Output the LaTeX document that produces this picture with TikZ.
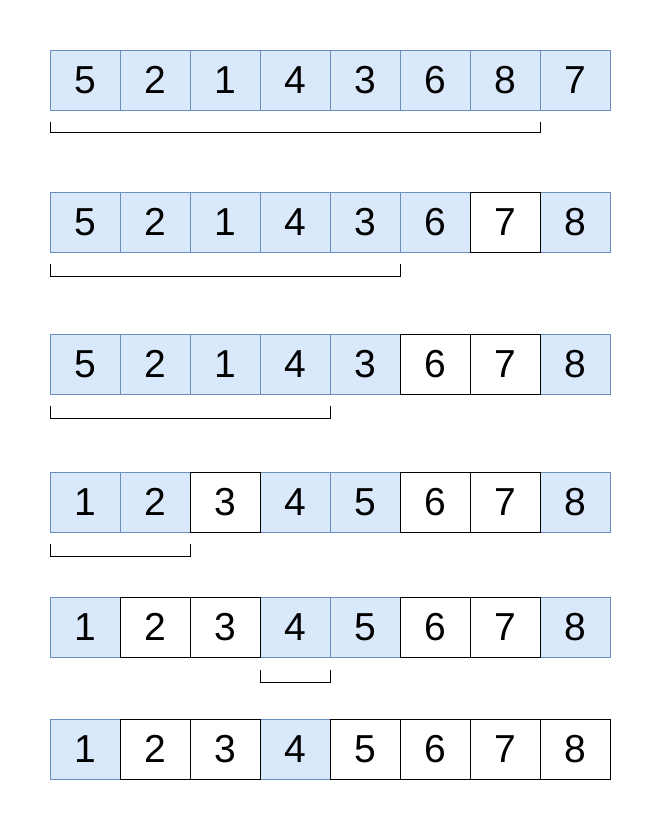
\documentclass[tikz,border=0pt]{standalone}
\usepackage{fontspec}
\setmainfont{Liberation Sans}
\usetikzlibrary{positioning}
\definecolor{cellfill}{HTML}{DAE8FC}
\definecolor{cellline}{HTML}{6C8EBF}
\tikzset{
    every picture/.style={
        x=1pt,y=1pt,node distance=0pt,line width=1pt,
        cell/.style={minimum width=70pt,minimum height=60pt,inner sep=0pt,outer sep=0pt,
            font=\fontsize{39}{39}\selectfont},
        unsorted/.style={cell,draw=cellline,fill=cellfill},
        placed/.style={cell,draw=black,fill=white},
        placededge/.style={draw=black},
        bracket/.style={draw=black}
    }
}

\begin{document}
\begin{tikzpicture}
    \useasboundingbox (0,0) rectangle (661,-830);
    % row 1
    \node[unsorted] (a1) at (85,-80) {5};
    \node[unsorted] (a2) [right=of a1] {2};
    \node[unsorted] (a3) [right=of a2] {1};
    \node[unsorted] (a4) [right=of a3] {4};
    \node[unsorted] (a5) [right=of a4] {3};
    \node[unsorted] (a6) [right=of a5] {6};
    \node[unsorted] (a7) [right=of a6] {8};
    \node[unsorted] (a8) [right=of a7] {7};
    % row 2
    \node[unsorted] (b1) at (85,-222) {5};
    \node[unsorted] (b2) [right=of b1] {2};
    \node[unsorted] (b3) [right=of b2] {1};
    \node[unsorted] (b4) [right=of b3] {4};
    \node[unsorted] (b5) [right=of b4] {3};
    \node[unsorted] (b6) [right=of b5] {6};
    \node[placed]   (b7) [right=of b6] {7};
    \node[unsorted] (b8) [right=of b7] {8};
    % row 3
    \node[unsorted] (c1) at (85,-364) {5};
    \node[unsorted] (c2) [right=of c1] {2};
    \node[unsorted] (c3) [right=of c2] {1};
    \node[unsorted] (c4) [right=of c3] {4};
    \node[unsorted] (c5) [right=of c4] {3};
    \node[placed]   (c6) [right=of c5] {6};
    \node[placed]   (c7) [right=of c6] {7};
    \node[unsorted] (c8) [right=of c7] {8};
    % row 4
    \node[unsorted] (d1) at (85,-502) {1};
    \node[unsorted] (d2) [right=of d1] {2};
    \node[placed]   (d3) [right=of d2] {3};
    \node[unsorted] (d4) [right=of d3] {4};
    \node[unsorted] (d5) [right=of d4] {5};
    \node[placed]   (d6) [right=of d5] {6};
    \node[placed]   (d7) [right=of d6] {7};
    \node[unsorted] (d8) [right=of d7] {8};
    % row 5
    \node[unsorted] (e1) at (85,-627) {1};
    \node[placed]   (e2) [right=of e1] {2};
    \node[placed]   (e3) [right=of e2] {3};
    \node[unsorted] (e4) [right=of e3] {4};
    \node[unsorted] (e5) [right=of e4] {5};
    \node[placed]   (e6) [right=of e5] {6};
    \node[placed]   (e7) [right=of e6] {7};
    \node[unsorted] (e8) [right=of e7] {8};
    % row 6
    \node[unsorted] (f1) at (85,-749) {1};
    \node[placed]   (f2) [right=of f1] {2};
    \node[placed]   (f3) [right=of f2] {3};
    \node[unsorted] (f4) [right=of f3] {4};
    \node[placed]   (f5) [right=of f4] {5};
    \node[placed]   (f6) [right=of f5] {6};
    \node[placed]   (f7) [right=of f6] {7};
    \node[placed]   (f8) [right=of f7] {8};
    % black borders on top
    \foreach \c in {b7,c6,c7,d3,d6,d7,e2,e3,e6,e7,f2,f3,f5,f6,f7,f8}
        \draw[placededge] (\c.south west) rectangle (\c.north east);
    % brackets
    \draw[bracket] ([yshift=-12pt]a1.south west) |- ([yshift=-22pt]a8.south west) -- ([yshift=-12pt]a8.south west);
    \draw[bracket] ([yshift=-12pt]b1.south west) |- ([yshift=-24pt]b6.south west) -- ([yshift=-12pt]b6.south west);
    \draw[bracket] ([yshift=-12pt]c1.south west) |- ([yshift=-24pt]c5.south west) -- ([yshift=-12pt]c5.south west);
    \draw[bracket] ([yshift=-12pt]d1.south west) |- ([yshift=-24pt]d3.south west) -- ([yshift=-12pt]d3.south west);
    \draw[bracket] ([yshift=-13pt]e4.south west) |- ([yshift=-25pt]e5.south west) -- ([yshift=-13pt]e5.south west);
\end{tikzpicture}
\end{document}
